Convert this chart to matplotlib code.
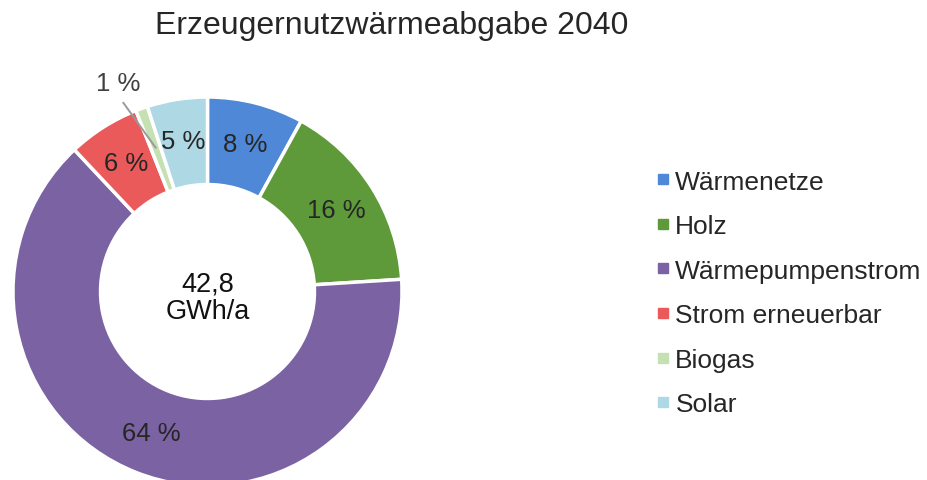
import numpy as np
import matplotlib
matplotlib.use("Agg")
import matplotlib.pyplot as plt
from matplotlib.lines import Line2D

plt.rcParams['font.family'] = ['Liberation Sans', 'DejaVu Sans']

# Anteile der Erzeugernutzwärmeabgabe 2040 in %
categories = ["Wärmenetze", "Holz", "Wärmepumpenstrom", "Strom erneuerbar", "Biogas", "Solar"]
shares = [8, 16, 64, 6, 1, 5]
colors = ["#4F88D6", "#5E9A3A", "#7B62A2", "#EA5A5B", "#C5E0B3", "#ADD8E4"]
total_label = "42,8\nGWh/a"
title = "Erzeugernutzwärmeabgabe 2040"

W, H = 927, 481
fig = plt.figure(figsize=(W / 100, H / 100), dpi=100)

# Kreis: Mitte (207.5, 292.5) px, Radius 194.5 px
cx, cy, R = 207.5, 292.5, 194.5
ax = fig.add_axes([(cx - R) / W, (H - cy - R) / H, 2 * R / W, 2 * R / H])

wedges, _ = ax.pie(shares, colors=colors, startangle=90, counterclock=False,
                   radius=1.0,
                   wedgeprops=dict(width=0.45, edgecolor='white', linewidth=2.5))
# pie() setzt eigene Grenzen -> danach überschreiben
ax.set_xlim(-1, 1)
ax.set_ylim(-1, 1)
ax.set_aspect('equal')
ax.axis('off')

# Beschriftungen in der Ringmitte, 1 % außen mit Führungslinie
for w, val in zip(wedges, shares):
    mid = np.deg2rad((w.theta1 + w.theta2) / 2)
    r = 0.785
    x, y = r * np.cos(mid), r * np.sin(mid)
    if val < 2:
        ax.annotate(f"{val} %", xy=(x, y), xytext=(-0.46, 1.07),
                    ha='center', va='center', fontsize=18.5, color='#404040',
                    arrowprops=dict(arrowstyle='-', color='#9A9A9A', lw=1.4,
                                    relpos=(0.5, 0.0), shrinkA=4, shrinkB=0),
                    annotation_clip=False, zorder=5)
    else:
        ax.text(x, y, f"{val} %", ha='center', va='center',
                fontsize=18.5, color='#262626')

ax.text(0, -0.03, total_label, ha='center', va='center', fontsize=19.5,
        color='#111111', linespacing=1.1)

fig.text(392 / W, 1 - 26 / H, title, ha='center', va='center',
         fontsize=23, color='#262626')

handles = [Line2D([0], [0], marker='s', linestyle='none', markersize=6.5,
                  markerfacecolor=c, markeredgecolor=c) for c in colors]
fig.legend(handles, categories, loc='upper left',
           bbox_to_anchor=(645 / W, 1 - 160 / H), frameon=False,
           fontsize=19, labelspacing=0.78, handlelength=0.6,
           handletextpad=0.15, borderaxespad=0, labelcolor='#262626')

fig.savefig("out.png", dpi=100, facecolor='white')
